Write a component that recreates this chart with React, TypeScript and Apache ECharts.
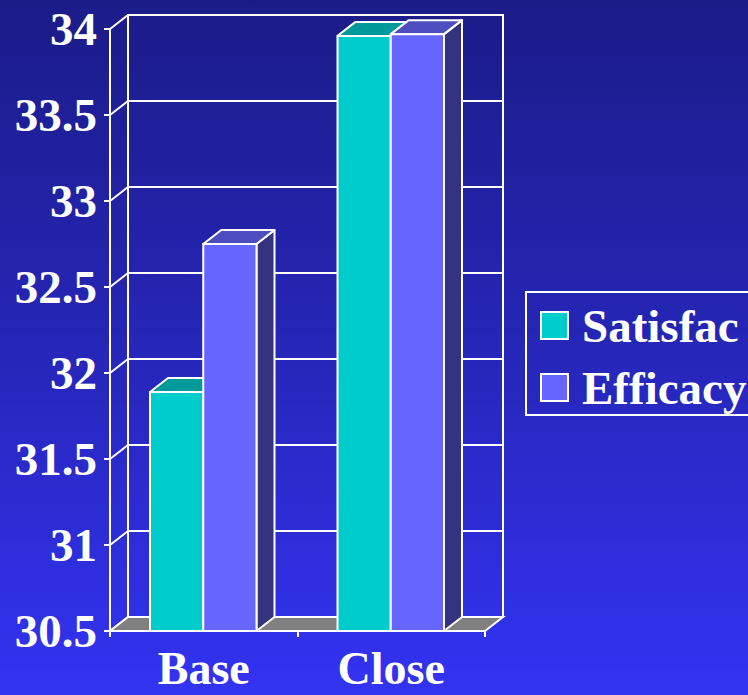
import React, { useEffect, useRef } from "react";
import * as echarts from "echarts";

const categories = ["Base", "Close"];
const satisfacValues = [31.89, 33.96];
const efficacyValues = [32.75, 33.97];
const seriesNames = ["Satisfac", "Efficacy"];
const yMin = 30.5;
const yMax = 34;
const yStep = 0.5;
const yTicks = [30.5, 31, 31.5, 32, 32.5, 33, 33.5, 34];

const DX = 18;
const DY = -14;
const FONT = "'Liberation Serif', 'Times New Roman', serif";

const palette = {
  satisfac: { front: "#00CCCC", top: "#009999", side: "#006666" },
  efficacy: { front: "#6666FF", top: "#4D4DBF", side: "#333380" },
};

function barRenderer(colors: { front: string; top: string; side: string }, slot: number) {
  return (params: any, api: any) => {
    const idx = api.value(0);
    const val = api.value(1);
    const topPt = api.coord([idx, val]);
    const botPt = api.coord([idx, yMin]);
    const band = api.size([1, 0])[0];
    const w = band * 0.284;
    const x0 = topPt[0] + (slot === 0 ? -w : 0) - 0.5;
    const yT = topPt[1];
    const yB = botPt[1];
    const stroke = { stroke: "#ffffff", lineWidth: 2, lineJoin: "round" };
    return {
      type: "group",
      children: [
        {
          type: "polygon",
          shape: {
            points: [
              [x0 + w, yT],
              [x0 + w + DX, yT + DY],
              [x0 + w + DX, yB + DY],
              [x0 + w, yB],
            ],
          },
          style: { fill: colors.side, ...stroke },
        },
        {
          type: "polygon",
          shape: {
            points: [
              [x0, yT],
              [x0 + w, yT],
              [x0 + w + DX, yT + DY],
              [x0 + DX, yT + DY],
            ],
          },
          style: { fill: colors.top, ...stroke },
        },
        {
          type: "rect",
          shape: { x: x0, y: yT, width: w, height: yB - yT },
          style: { fill: colors.front, ...stroke },
        },
      ],
    };
  };
}

export default function App() {
  const ref = useRef<HTMLDivElement>(null);
  useEffect(() => {
    document.body.style.margin = "0";
    const chart = echarts.init(ref.current!, null, { renderer: "svg" });
    const labelStyle = {
      color: "#ffffff",
      fontFamily: FONT,
      fontWeight: "bold",
      fontSize: 47,
    };
    const option: any = {
      animation: false,
      backgroundColor: new echarts.graphic.LinearGradient(0, 0, 0, 1, [
        { offset: 0, color: "#1b1b88" },
        { offset: 0.5, color: "#2626b8" },
        { offset: 1, color: "#3333f3" },
      ]),
      legend: {
        orient: "vertical",
        left: 526,
        top: 292,
        padding: [10, 80, 4, 14],
        itemGap: 15,
        itemWidth: 27,
        itemHeight: 27,
        icon: "rect",
        selectedMode: false,
        borderColor: "#ffffff",
        borderWidth: 2,
        data: seriesNames,
        itemStyle: { borderColor: "#ffffff", borderWidth: 2 },
        textStyle: { ...labelStyle, padding: [0, 0, 0, 9] },
      },
      grid: [
        { left: 110, top: 29, width: 375, height: 602 },
        {
          left: 110 + DX,
          top: 29 + DY,
          width: 375,
          height: 602,
          show: true,
          borderColor: "#ffffff",
          borderWidth: 2,
          backgroundColor: "transparent",
          z: 0,
        },
      ],
      xAxis: [
        {
          type: "category",
          gridIndex: 0,
          data: categories,
          axisLine: { lineStyle: { color: "#ffffff", width: 2 } },
          axisTick: { show: true, length: 6, lineStyle: { color: "#ffffff", width: 2 } },
          axisLabel: { ...labelStyle, fontSize: 46, margin: 15, lineHeight: 44 },
          z: 5,
        },
        { type: "category", gridIndex: 1, data: categories, show: false },
      ],
      yAxis: [
        {
          type: "value",
          gridIndex: 0,
          min: yMin,
          max: yMax,
          interval: yStep,
          axisLine: { show: true, lineStyle: { color: "#ffffff", width: 2 } },
          axisTick: { show: true, length: 6, lineStyle: { color: "#ffffff", width: 2 } },
          splitLine: { show: false },
          axisLabel: { ...labelStyle, margin: 13 },
          z: 5,
        },
        {
          type: "value",
          gridIndex: 1,
          min: yMin,
          max: yMax,
          interval: yStep,
          axisLine: { show: false },
          axisTick: { show: false },
          axisLabel: { show: false },
          splitLine: { show: true, lineStyle: { color: "#ffffff", width: 2 } },
        },
      ],
      series: [
        {
          type: "custom",
          xAxisIndex: 0,
          yAxisIndex: 0,
          silent: true,
          z: 1,
          data: yTicks.map((v) => [0, v]),
          renderItem: (params: any, api: any) => {
            const cs = params.coordSys;
            const y = api.coord([0, api.value(1)])[1];
            return {
              type: "line",
              shape: { x1: cs.x, y1: y, x2: cs.x + DX, y2: y + DY },
              style: { stroke: "#ffffff", lineWidth: 2 },
            };
          },
        },
        {
          type: "custom",
          xAxisIndex: 0,
          yAxisIndex: 0,
          silent: true,
          z: 1,
          data: [[0, yMin]],
          renderItem: (params: any, api: any) => {
            const cs = params.coordSys;
            const y = api.coord([0, yMin])[1];
            const xl = cs.x;
            const xr = cs.x + cs.width;
            return {
              type: "polygon",
              shape: {
                points: [
                  [xl, y],
                  [xr, y],
                  [xr + DX, y + DY],
                  [xl + DX, y + DY],
                ],
              },
              style: { fill: "#808080", stroke: "#ffffff", lineWidth: 2 },
            };
          },
        },
        {
          name: seriesNames[0],
          type: "custom",
          xAxisIndex: 0,
          yAxisIndex: 0,
          z: 3,
          itemStyle: { color: palette.satisfac.front, borderColor: "#ffffff" },
          data: satisfacValues.map((v, i) => [i, v]),
          renderItem: barRenderer(palette.satisfac, 0),
        },
        {
          name: seriesNames[1],
          type: "custom",
          xAxisIndex: 0,
          yAxisIndex: 0,
          z: 4,
          itemStyle: { color: palette.efficacy.front, borderColor: "#ffffff" },
          data: efficacyValues.map((v, i) => [i, v]),
          renderItem: barRenderer(palette.efficacy, 1),
        },
      ],
    };
    chart.setOption(option);
    return () => chart.dispose();
  }, []);
  return (
    <div
      ref={ref}
      style={{ position: "fixed", left: 0, top: 0, width: 748, height: 695 }}
    />
  );
}
